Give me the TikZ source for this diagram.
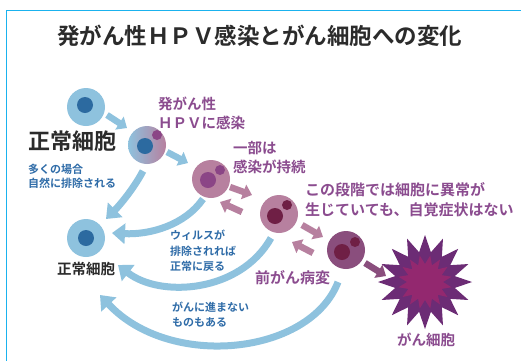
\documentclass[tikz,border=0pt]{standalone}
\usepackage{fontspec}
\setmainfont{Noto Sans CJK JP}[BoldFont={* Bold}]
\usetikzlibrary{arrows.meta,shapes.geometric,calc}

\definecolor{frameblue}{HTML}{1AB2EE}
\definecolor{titlegray}{HTML}{2B2B2B}
\definecolor{cellblue}{HTML}{8EC2DE}
\definecolor{nucblue}{HTML}{2C6AA0}
\definecolor{textblue}{HTML}{2F6CA8}
\definecolor{textpurple}{HTML}{8B4C8F}
\definecolor{mauve}{HTML}{B7809F}
\definecolor{nucpurple}{HTML}{8B4586}
\definecolor{maroon}{HTML}{6F1F45}
\definecolor{plum}{HTML}{8A4E7D}
\definecolor{staroute}{HTML}{6C2C75}
\definecolor{starin}{HTML}{93286F}

\tikzset{
  cellbody/.style={circle, inner sep=0pt, minimum size=38pt},
  nucleus/.style={circle, inner sep=0pt, minimum size=16pt},
  virus/.style={circle, inner sep=0pt, minimum size=10pt},
  stepto/.style={line width=6.5pt, -{Triangle[width=15pt,length=9pt]}},
  backto/.style={line width=7pt, -{Triangle[width=20pt,length=13pt]}, draw=cellblue},
  lbl/.style={inner sep=0pt, anchor=base west, align=left, font=\bfseries},
}

\begin{document}
\begin{tikzpicture}[x=1pt, y=-1pt]
\useasboundingbox (0,0) rectangle (521,360);
\fill[white] (0,0) rectangle (521,360);
\draw[frameblue, line width=1.8pt] (6.5,380) -- (6.5,10.5) -- (540,10.5);

% title
\node[lbl, font=\bfseries\fontsize{22.5}{26}\selectfont, text=titlegray] (title) at (57,44.5)
  {発がん性ＨＰＶ感染とがん細胞への変化};

% cells
\node[cellbody, fill=cellblue] (c1) at (86,107) {};
\node[nucleus, fill=nucblue] (n1) at (85,105) {};

\node[cellbody, left color=cellblue, right color=mauve] (c2) at (147,145) {};
\node[nucleus, fill=nucblue] (n2) at (145,146) {};
\node[virus, fill=nucpurple] (v2) at (157,135) {};

\node[cellbody, fill=mauve] (c3) at (211,179) {};
\node[nucleus, fill=nucpurple] (n3) at (208,180) {};
\node[virus, fill=nucpurple] (v3) at (220,170) {};

\node[cellbody, fill=mauve] (c4) at (279,214) {};
\node[nucleus, fill=maroon] (n4) at (275,216) {};
\node[virus, fill=maroon] (v4) at (287,205) {};

\node[cellbody, fill=plum] (c5) at (346,250) {};
\node[nucleus, fill=maroon] (n5) at (342,252) {};
\node[virus, fill=maroon] (v5) at (355,242) {};

\node[cellbody, fill=cellblue] (c6) at (86,238) {};
\node[nucleus, fill=nucblue] (n6) at (86,238) {};

% cancer cell
\node[star, star points=16, star point ratio=1.55, minimum size=94pt, inner sep=0pt, fill=staroute] (ca) at (425,282) {};
\node[star, star points=16, star point ratio=1.5, minimum size=54pt, inner sep=0pt, fill=starin, rotate=11.25] (cb) at (425,282) {};

% labels (base anchor of a multi-line node sits on its last line)
\node[lbl, font=\bfseries\fontsize{22}{26}\selectfont, text=titlegray] (normal1) at (28,149.5) {正常細胞};
\node[lbl, font=\bfseries\fontsize{11}{14.5}\selectfont, text=textblue] (often) at (28,187.5) {多くの場合\\自然に排除される};
\node[lbl, font=\bfseries\fontsize{14.5}{19}\selectfont, text=textpurple] (hpv) at (158,128.5) {発がん性\\ＨＰＶに感染};
\node[lbl, font=\bfseries\fontsize{14.5}{19}\selectfont, text=textpurple] (persist) at (233,172.5) {一部は\\感染が持続};
\node[lbl, font=\bfseries\fontsize{15}{20}\selectfont, text=textpurple] (nosym) at (305,215.5) {この段階では細胞に異常が\\生じていても、自覚症状はない};
\node[lbl, font=\bfseries\fontsize{15}{19}\selectfont, text=textpurple] (pre) at (255,283.5) {前がん病変};
\node[lbl, font=\bfseries\fontsize{14.5}{19}\selectfont, text=textpurple] (cancer) at (397,345.5) {がん細胞};
\node[lbl, font=\bfseries\fontsize{14.5}{19}\selectfont, text=titlegray] (normal2) at (57,274.5) {正常細胞};
\node[lbl, font=\bfseries\fontsize{11}{15.5}\selectfont, text=textblue] (cleared) at (170,270.5) {ウィルスが\\排除されれば\\正常に戻る};
\node[lbl, font=\bfseries\fontsize{11}{14.5}\selectfont, text=textblue] (notall) at (172,326) {がんに進まない\\ものもある};

% progression arrows
\draw[stepto, cellblue] ($(c1)+(21,8)$) -- ($(c2)+(-20,-17)$);
\draw[stepto, cellblue] ($(c2)+(20,7)$) -- ($(c3)+(-23,-16)$);
\draw[stepto, mauve] ($(c3)+(19,8)$) -- ($(c4)+(-27,-19)$);
\draw[stepto, mauve] ($(c4)+(-37,-2)$) -- ($(c3)+(9,23)$);
\draw[stepto, mauve] ($(c4)+(23,11)$) -- ($(c5)+(-23,-13)$);
\draw[stepto, mauve] ($(c5)+(-33,3)$) -- ($(c4)+(13,28)$);
\draw[stepto, plum] ($(c5)+(19,13)$) -- ($(ca)+(-39,-6)$);

% regression arrows
\draw[backto] ($(c2)+(-4,26)$) .. controls (133,190) and (118,207) .. ($(c6)+(20,-19)$);
\draw[backto] ($(c3)+(-8,20)$) .. controls (185,225) and (150,235) .. ($(c6)+(26,-5)$);
\draw[backto] ($(c4)+(-8,24)$) .. controls (240,293) and (160,298) .. ($(c6)+(32,27)$);
\draw[backto] ($(c5)+(-8,32)$) .. controls (310,355) and (170,370) .. ($(c6)+(14,57)$);
\end{tikzpicture}
\end{document}
